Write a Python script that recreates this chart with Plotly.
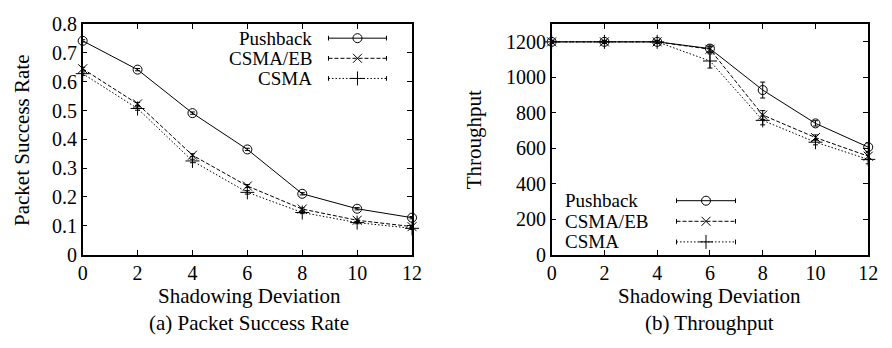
import plotly.graph_objects as go

# ---------------- data ----------------
x_dev = [0, 2, 4, 6, 8, 10, 12]
series_names = ["Pushback", "CSMA/EB", "CSMA"]

psr_pushback = [0.742, 0.642, 0.491, 0.365, 0.211, 0.159, 0.128]
psr_csmaeb = [0.645, 0.523, 0.345, 0.238, 0.158, 0.119, 0.097]
psr_csma = [0.628, 0.507, 0.325, 0.216, 0.146, 0.111, 0.091]
psr_err_pushback = [0.004, 0.004, 0.004, 0.004, 0.004, 0.004, 0.004]
psr_err_csmaeb = [0.005, 0.005, 0.005, 0.005, 0.004, 0.004, 0.004]
psr_err_csma = [0.006, 0.006, 0.006, 0.006, 0.004, 0.004, 0.004]

thr_pushback = [1200, 1200, 1200, 1162, 928, 740, 606]
thr_csmaeb = [1200, 1200, 1200, 1158, 787, 660, 555]
thr_csma = [1200, 1200, 1200, 1092, 757, 634, 537]
thr_err_pushback = [8, 8, 8, 20, 45, 15, 25]
thr_err_csmaeb = [8, 8, 8, 15, 25, 15, 20]
thr_err_csma = [8, 8, 8, 40, 25, 15, 25]

psr_ticks = [0, 0.1, 0.2, 0.3, 0.4, 0.5, 0.6, 0.7, 0.8]
thr_ticks = [0, 200, 400, 600, 800, 1000, 1200]
x_ticks = [0, 2, 4, 6, 8, 10, 12]

# ---------------- style ----------------
W, H = 892, 348
FONT = "Liberation Serif"
FS = 20
TFS = 21
LFS = 19
styles = {
    "Pushback": dict(dash="solid", symbol="circle-open", size=9),
    "CSMA/EB": dict(dash="4px,2px", symbol="x-thin-open", size=9),
    "CSMA": dict(dash="1.5px,2px", symbol="cross-thin-open", size=10),
}

fig = go.Figure()

def add_series(name, xs, ys, errs, xa, ya):
    st = styles[name]
    fig.add_trace(go.Scatter(
        x=xs, y=ys, mode="lines+markers", name=name, showlegend=False,
        xaxis=xa, yaxis=ya, cliponaxis=False,
        line=dict(color="black", width=1, dash=st["dash"]),
        marker=dict(symbol=st["symbol"], size=st["size"], color="black",
                    line=dict(color="black", width=1)),
        error_y=dict(type="data", array=errs, visible=True, color="black",
                     thickness=1, width=2.5),
    ))

add_series("Pushback", x_dev, psr_pushback, psr_err_pushback, "x", "y")
add_series("CSMA/EB", x_dev, psr_csmaeb, psr_err_csmaeb, "x", "y")
add_series("CSMA", x_dev, psr_csma, psr_err_csma, "x", "y")
add_series("Pushback", x_dev, thr_pushback, thr_err_pushback, "x2", "y2")
add_series("CSMA/EB", x_dev, thr_csmaeb, thr_err_csmaeb, "x2", "y2")
add_series("CSMA", x_dev, thr_csma, thr_err_csma, "x2", "y2")

# ---------------- manual legends (pixel overlay axis) ----------------
annotations = []
shapes = []

def legend(text_x, anchor, line_x0, line_x1, rows_y):
    for name, yy in zip(series_names, rows_y):
        st = styles[name]
        annotations.append(dict(
            x=text_x, y=yy, xref="x3", yref="y3", text=name, showarrow=False,
            xanchor=anchor, yanchor="middle",
            font=dict(family=FONT, size=LFS, color="black")))
        fig.add_trace(go.Scatter(
            x=[line_x0, line_x1], y=[yy, yy], mode="lines", showlegend=False,
            xaxis="x3", yaxis="y3", hoverinfo="skip",
            line=dict(color="black", width=1, dash=st["dash"])))
        fig.add_trace(go.Scatter(
            x=[(line_x0 + line_x1) / 2], y=[yy], mode="markers", showlegend=False,
            xaxis="x3", yaxis="y3", hoverinfo="skip",
            marker=dict(symbol=st["symbol"], size=st["size"], color="black",
                        line=dict(color="black", width=1))))
        for xc in (line_x0, line_x1):
            shapes.append(dict(type="line", xref="x3", yref="y3",
                               x0=xc, x1=xc, y0=yy - 2.5, y1=yy + 2.5,
                               line=dict(color="black", width=1)))

legend(314, "right", 329, 388, [29, 50.5, 72])
legend(568, "left", 683, 743, [202.5, 224.5, 246.5])

# ---------------- captions / titles ----------------
def txt(x, y, s, angle=0):
    annotations.append(dict(x=x, y=y, xref="x3", yref="y3", text=s, showarrow=False,
                            xanchor="center", yanchor="middle", textangle=angle,
                            font=dict(family=FONT, size=TFS, color="black")))

txt(249, 304, "Shadowing Deviation")
txt(717, 304, "Shadowing Deviation")
txt(248, 333, "(a) Packet Success Rate")
txt(717, 333, "(b) Throughput")
txt(18, 138, "Packet Success Rate", -90)
txt(477, 137, "Throughput", -90)

y_top = 1 - 14 / H
y_bot = 1 - 260 / H

axis_common = dict(
    showline=True, linecolor="black", linewidth=1.5, mirror="ticks",
    ticks="inside", ticklen=5, tickwidth=1, tickcolor="black",
    showgrid=False, zeroline=False,
    tickfont=dict(family=FONT, size=FS, color="black"),
)

fig.update_layout(
    width=W, height=H, margin=dict(l=0, r=0, t=0, b=0),
    plot_bgcolor="rgba(0,0,0,0)", paper_bgcolor="white",
    showlegend=False,
    xaxis=dict(domain=[79 / W, 414 / W], range=[0, 12], tickvals=x_ticks,
               anchor="y", **axis_common),
    yaxis=dict(domain=[y_bot, y_top], range=[0, 0.8], tickvals=psr_ticks,
               ticktext=[("%g" % v) for v in psr_ticks], anchor="x", **axis_common),
    xaxis2=dict(domain=[556 / W, 878 / W], range=[0, 12], tickvals=x_ticks,
                anchor="y2", **axis_common),
    yaxis2=dict(domain=[y_bot, y_top], range=[0, 1300], tickvals=thr_ticks,
                anchor="x2", **axis_common),
    xaxis3=dict(domain=[0, 1], range=[0, W], visible=False, anchor="y3", fixedrange=True),
    yaxis3=dict(domain=[0, 1], range=[H, 0], visible=False, anchor="x3", fixedrange=True),
    annotations=annotations,
    shapes=shapes,
)

fig.write_html("out.html")
